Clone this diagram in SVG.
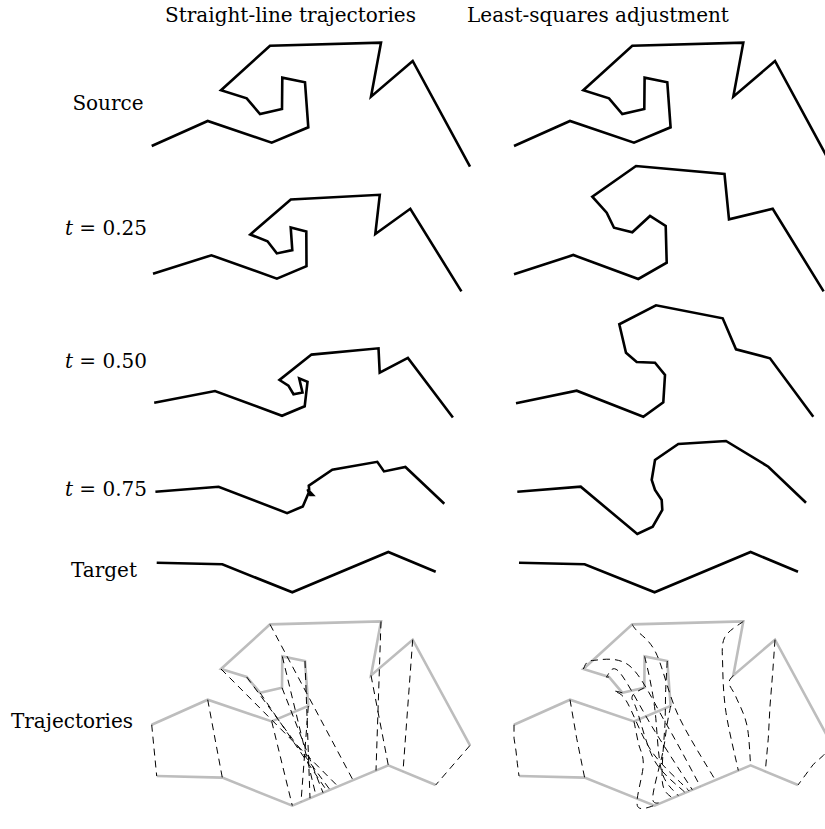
<svg xmlns="http://www.w3.org/2000/svg" width="825" height="829" viewBox="0 0 825 829">
<style>
.lbl{font-family:"DejaVu Serif","Liberation Serif",serif;font-size:20px;fill:#000}
.shape{fill:none;stroke:#000;stroke-width:2.6}
.ghost{fill:none;stroke:#bdbdbd;stroke-width:2.6}
.traj{fill:none;stroke:#000;stroke-width:1;stroke-dasharray:7 5}
</style>
<rect width="825" height="829" fill="#fff"/>
<g id="headers">
<text class="lbl" x="290.5" y="22" text-anchor="middle">Straight-line trajectories</text>
<text class="lbl" x="598" y="22" text-anchor="middle">Least-squares adjustment</text>
</g>
<g id="row-labels">
<text class="lbl" x="108" y="110" text-anchor="middle">Source</text>
<text class="lbl" x="106" y="235" text-anchor="middle"><tspan font-style="italic">t</tspan> = 0.25</text>
<text class="lbl" x="106" y="368" text-anchor="middle"><tspan font-style="italic">t</tspan> = 0.50</text>
<text class="lbl" x="106" y="496" text-anchor="middle"><tspan font-style="italic">t</tspan> = 0.75</text>
<text class="lbl" x="104" y="577" text-anchor="middle">Target</text>
<text class="lbl" x="72" y="728" text-anchor="middle">Trajectories</text>
</g>
<g id="straight-source"><polyline class="shape" points="151.7,146 207.7,121 271.7,142.7 308.3,127.3 305,82.3 282.3,77.7 282,109 260,114 246.7,98.3 221,90.3 270,45.7 381,42.7 371,96.7 412.7,61 470,166.7"/></g>
<g id="straight-t025"><polyline class="shape" points="153,273.7 211.4,255.3 276.9,278.6 306.5,266.2 306.3,231.4 290.7,227.4 292.3,250.1 276.8,253.4 267.5,241.3 250.3,234.5 290.8,199.5 379.8,194.8 375.3,234 410.3,208.8 461.4,291.4"/></g>
<g id="straight-t050"><polyline class="shape" points="154.2,402.7 215,391 282,415.8 304.7,406.3 307.5,381.9 299.2,378.4 302.5,392.5 293.5,394.2 288.4,385.7 279.5,380 311.5,354.6 378.5,348.3 379.7,372.7 407.9,357.9 452.9,417.5"/></g>
<g id="straight-t075"><polyline class="shape" points="155.4,491.7 218.6,486.7 287.1,513.1 302.8,506.5 308.8,492.5 307.6,489.4 312.8,495 310.3,495 309.2,490.2 308.8,485.6 332.3,469.7 377.3,461.8 384,471.4 405.4,467 444.3,503.7"/></g>
<g id="straight-target"><polyline class="shape" points="156.7,562.7 222.3,564.3 292.3,592.3 388.3,552 435.7,571.7"/></g>
<g id="ls-source"><polyline class="shape" points="514,146 570,121 634,142.7 670.6,127.3 667.3,82.3 644.6,77.7 644.3,109 622.3,114 609,98.3 583.3,90.3 632.3,45.7 743.3,42.7 733.3,96.7 775,61 832.3,166.7"/></g>
<g id="ls-t025"><polyline class="shape" points="514,274.3 573.3,255 638.3,279 666.7,262.7 665.7,226 650,216 632.3,232.3 614,227.7 606.7,212.7 592.3,196.7 636,166 724.5,174 729,219.3 772.7,208.7 823.6,291.4"/></g>
<g id="ls-t050"><polyline class="shape" points="516,403.3 576.7,390.7 643.3,416.7 663.3,402.3 665,375 655,362.7 636.7,362 626,352.7 619.3,324.3 656,305.3 722.7,318.3 736,349.3 770,358.3 813.3,416.7"/></g>
<g id="ls-t075"><polyline class="shape" points="517.3,491.7 580.7,486.7 637.3,534 652.7,526.7 662.3,510 661.7,500 655,490 651.7,480 655,460 678.3,444 726,441 768.3,466.7 806,502.7"/></g>
<g id="ls-target"><polyline class="shape" points="519,562.7 584.6,564.3 654.6,592.3 750.6,552 798,571.7"/></g>
<g id="straight-trajectories-shapes">
<polyline class="ghost" points="151.7,724.7 207.7,699.7 271.7,721.4 308.3,706 305,661 282.3,656.4 282,687.7 260,692.7 246.7,677 221,669 270,624.4 381,621.4 371,675.4 412.7,639.7 470,745.4"/>
<polyline class="ghost" points="156.7,776 222.3,777.6 292.3,805.6 388.3,765.3 435.7,785"/>
</g>
<g id="ls-trajectories-shapes">
<polyline class="ghost" points="514,724.7 570,699.7 634,721.4 670.6,706 667.3,661 644.6,656.4 644.3,687.7 622.3,692.7 609,677 583.3,669 632.3,624.4 743.3,621.4 733.3,675.4 775,639.7 832.3,745.4"/>
<polyline class="ghost" points="519,776 584.6,777.6 654.6,805.6 750.6,765.3 798,785"/>
</g>
<g id="connectors">
<path class="traj" d="M151.7,724.7L156.7,776M207.7,699.7L222.3,777.6M271.7,721.4L292.3,805.6M308.3,706L301,801.9M305,661L310,798.2M282.3,656.4L316,795.7M282,687.7L323,792.7M260,692.7L327,791M246.7,677L330,789.8M221,669L338,786.4M270,624.4L353,780.1M381,621.4L376,770.5M371,675.4L388.3,765.3M412.7,639.7L403,771.4M470,745.4L435.7,785"/>
<polyline class="traj" points="514,724.7 514,738.1 516,751 517.3,763.2 519,776"/>
<polyline class="traj" points="570,699.7 573.3,718.8 576.7,738.4 580.7,758.2 584.6,777.6"/>
<path class="traj" d="M634,721.4 C634.7,725 636.8,735.6 638.3,742.8 S643.5,754 643.3,764.4 S635.4,798.6 637.3,805.5 S651.7,805.6 654.6,805.6"/>
<path class="traj" d="M670.6,706 C670,709.4 667.9,719.2 666.7,726.5 S665.6,738 663.3,750 S652.7,789.6 652.7,798.2 S661.5,801.3 663.3,801.9"/>
<path class="traj" d="M667.3,661 C667,665.8 666.1,679.5 665.7,689.8 S665.6,707.4 665,722.7 S661.1,768.9 662.3,781.5 S670.6,795.4 672.3,798.2"/>
<path class="traj" d="M644.6,656.4 C645.5,660.3 648.3,670.8 650,679.8 S653.1,695.1 655,710.4 S657.8,757.3 661.7,771.5 S675.5,791.7 678.3,795.7"/>
<path class="traj" d="M644.3,687.7 C642.3,689.1 633.6,692.4 632.3,696.1 S632.9,698.8 636.7,709.7 S646.9,747.7 655,761.5 S680.3,787.5 685.3,792.7"/>
<path class="traj" d="M622.3,692.7 C620.9,692.5 613.4,690.2 614,691.5 S619.7,690.4 626,700.4 S641.2,736.4 651.7,751.5 S683,784.4 689.3,791"/>
<path class="traj" d="M609,677 C608.6,676.9 605,677.3 606.7,676.5 S611.3,662.8 619.3,672 S642.8,711.9 655,731.5 S686.1,780.1 692.3,789.8"/>
<path class="traj" d="M583.3,669 C584.8,667.6 584.5,661 592.3,660.5 S617.7,655.7 630,666.2 S654.3,703.5 666,723.5 S694.6,775.9 700.3,786.4"/>
<path class="traj" d="M632.3,624.4 C632.9,625.3 632,625 636,629.8 S649,638.7 656,653 S668.4,694.3 678.3,715.5 S709.1,769.3 715.3,780.1"/>
<path class="traj" d="M743.3,621.4 C740.2,624.1 727.9,630.4 724.5,637.8 S722.5,653.6 722.7,666 S723.4,695.1 726,712.5 S736.3,760.8 738.3,770.5"/>
<path class="traj" d="M733.3,675.4 C732.6,676.7 728.6,679.5 729,683.1 S733,689.9 736,697 S744.6,714.1 747,725.5 S750,758.7 750.6,765.3"/>
<polyline class="traj" points="775,639.7 772.7,672.5 770,706 768.3,738.2 765.3,771.4"/>
<polyline class="traj" points="832.3,745.4 823.6,755.2 813.3,764.4 806,774.2 798,785"/>
</g>
</svg>
